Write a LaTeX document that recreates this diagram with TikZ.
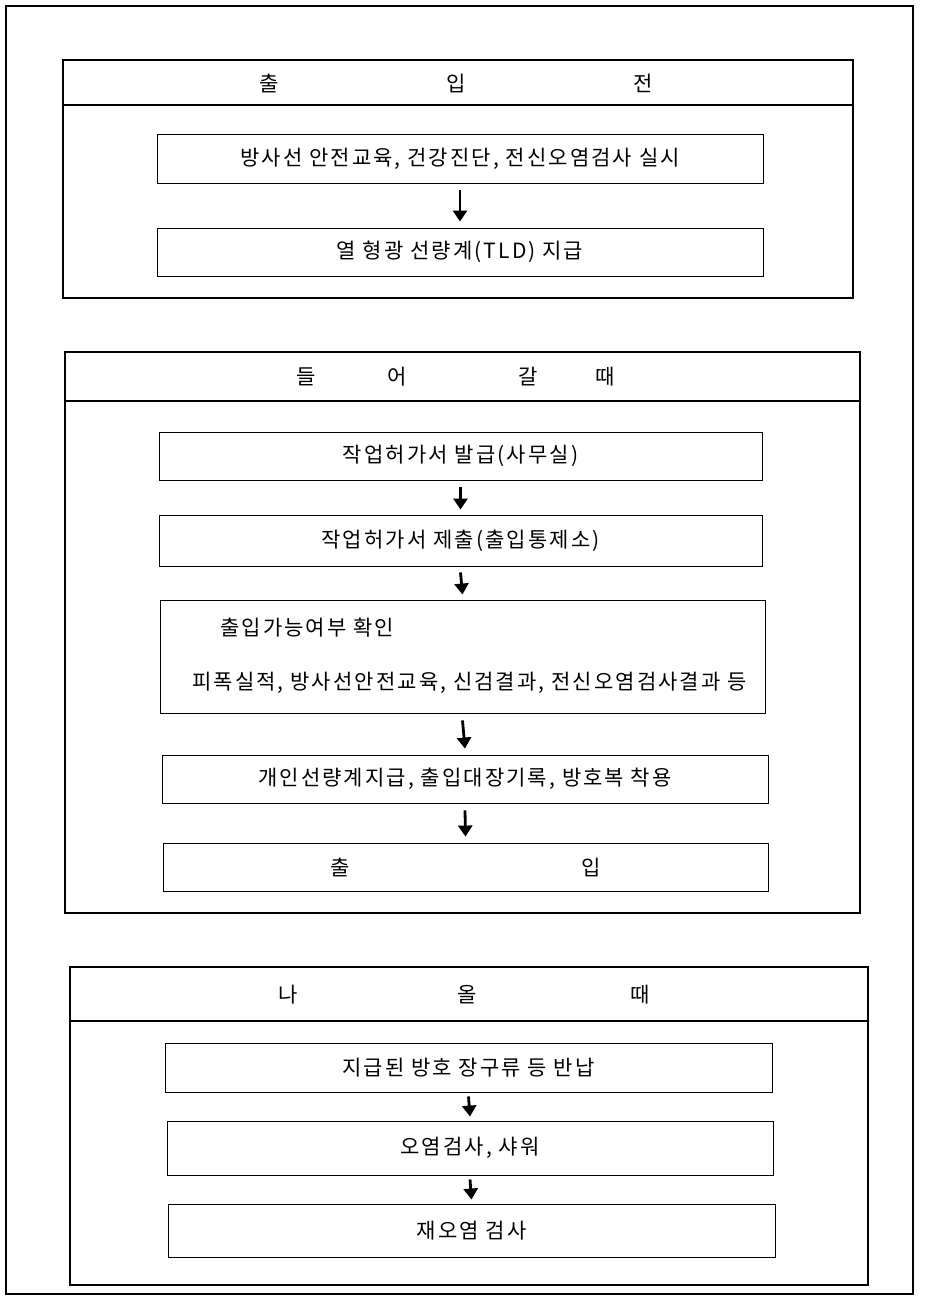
\documentclass[tikz,border=0pt]{standalone}
\usepackage{fontspec}
\setmainfont{Noto Sans CJK KR}[LetterSpace=10]
\usetikzlibrary{arrows.meta}
\begin{document}
\begin{tikzpicture}[x=1pt,y=-1pt,
  frame/.style={line width=1.1pt},
  sect/.style={line width=1.5pt},
  stepbox/.style={draw, line width=0.9pt, rectangle, inner sep=0pt, font=\fontsize{21}{25}\selectfont},
  lbl/.style={inner sep=0pt, font=\fontsize{21}{25}\selectfont},
  flow/.style={line width=2.8pt, -{Triangle[length=11pt,width=14pt]}}]
\useasboundingbox (0,0) rectangle (924,1300);
\draw[frame] (6,6) rectangle (913,1294);

% ---------- Section 1 ----------
\draw[sect] (63,60) rectangle (853,298);
\draw[sect] (63,105) -- (853,105);
\node[lbl] (h1) at (456,83) {출\hspace{168pt}입\hspace{168pt}전};
\node[stepbox, minimum width=606pt, minimum height=49pt] (A) at (460,158.5) {방사선 안전교육, 건강진단, 전신오염검사 실시};
\node[stepbox, minimum width=606pt, minimum height=48pt] (B) at (460,252) {열 형광 선량계(TLD) 지급};
\draw[flow] ([yshift=-7pt]A.south) -- ([yshift=6pt]B.north);

% ---------- Section 2 ----------
\draw[sect] (65,352) rectangle (860,913);
\draw[sect] (65,401) -- (860,401);
\node[lbl] (h2) at (455.5,377) {들\hspace{72pt}어\hspace{111pt}갈\hspace{58pt}때};
\node[stepbox, minimum width=603pt, minimum height=48pt] (C) at (460.5,456) {작업허가서 발급(사무실)};
\node[stepbox, minimum width=603pt, minimum height=51pt] (D) at (460.5,540.5) {작업허가서 제출(출입통제소)};
\node[stepbox, minimum width=605pt, minimum height=113pt] (E) at (462.5,656.5) {};
\node[lbl, anchor=west] (E1) at (220,628) {출입가능여부 확인};
\node[lbl, anchor=west] (E2) at (192,683) {피폭실적, 방사선안전교육, 신검결과, 전신오염검사결과 등};
\node[stepbox, minimum width=606pt, minimum height=48pt] (F) at (465,779) {개인선량계지급, 출입대장기록, 방호복 착용};
\node[stepbox, minimum width=605pt, minimum height=48pt] (G) at (465.5,867) {출\hspace{231pt}입\hspace{20pt}};
\draw[flow] ([yshift=-7pt]C.south) -- ([yshift=5pt]D.north);
\draw[flow] ([yshift=-6pt]D.south) -- ([yshift=5pt]E.north);
\draw[flow] ([yshift=-7pt]E.south) -- ([yshift=6pt]F.north);
\draw[flow] ([yshift=-7pt]F.south) -- ([yshift=6pt]G.north);

% ---------- Section 3 ----------
\draw[sect] (70,967) rectangle (868,1285);
\draw[sect] (70,1021) -- (868,1021);
\node[lbl] (h3) at (464,995) {나\hspace{160pt}올\hspace{154pt}때};
\node[stepbox, minimum width=607pt, minimum height=49pt] (H) at (468.5,1067.5) {지급된 방호 장구류 등 반납};
\node[stepbox, minimum width=606pt, minimum height=54pt] (I) at (470,1148) {오염검사, 샤워};
\node[stepbox, minimum width=607pt, minimum height=53pt] (J) at (471.5,1230.5) {재오염 검사};
\draw[flow] ([yshift=-4pt]H.south) -- ([yshift=4pt]I.north);
\draw[flow] ([yshift=-4pt]I.south) -- ([yshift=4pt]J.north);
\end{tikzpicture}
\end{document}
